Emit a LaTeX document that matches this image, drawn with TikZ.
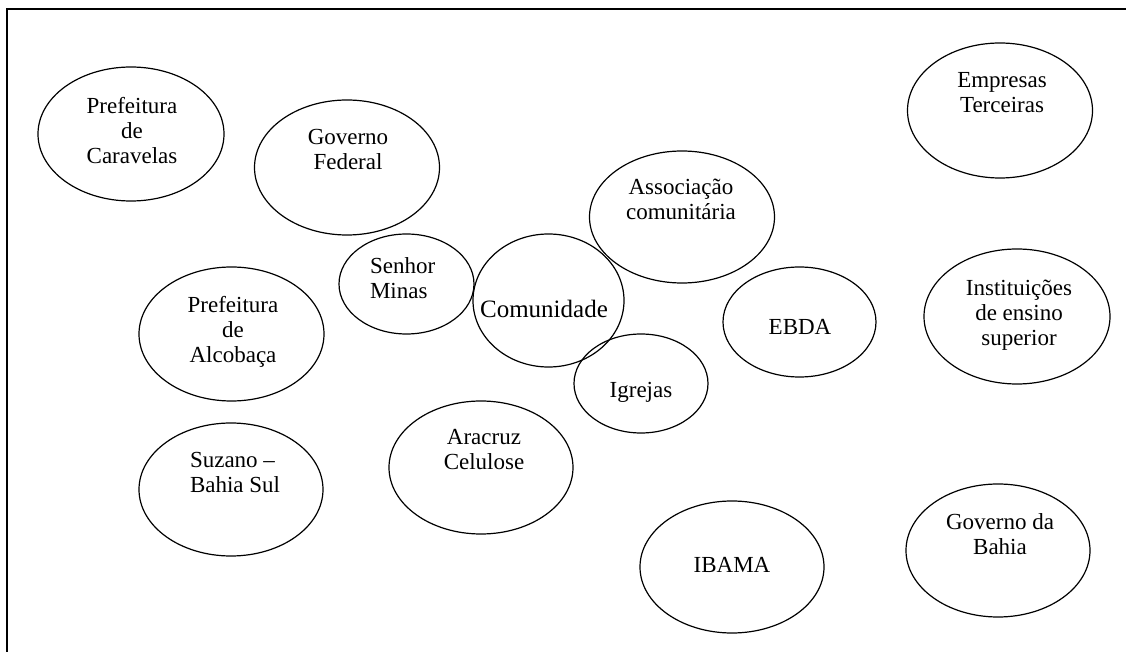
\documentclass[tikz,border=0pt]{standalone}
\usepackage{fontspec}
\setmainfont{Liberation Serif}
\usetikzlibrary{shapes.geometric}
\begin{document}
\begin{tikzpicture}[x=0.5pt,y=-0.5pt,
  ell/.style 2 args={draw,ellipse,line width=0.6pt,inner sep=0pt,outer sep=0pt,minimum width=#1*0.5pt,minimum height=#2*0.5pt},
  txt/.style={inner sep=0pt,outer sep=0pt,anchor=north,align=center,font=\fontsize{11.5pt}{12.4pt}\selectfont},
  txtl/.style={txt,anchor=north west,align=left}]
\useasboundingbox (0,0) rectangle (1126,652);
\begin{scope}
\clip (0,0) rectangle (1126,652);
\coordinate (fr) at (1200,9);
\coordinate (fc) at (7,9);
\coordinate (fb) at (7,700);
\draw[line width=1pt] (fr) -- (fc) -- (fb);
\end{scope}
% ellipses
\node[ell={186}{134}] (car) at (131,134) {};
\node[ell={185}{135}] (gf) at (347,167.5) {};
\node[ell={185}{135}] (emp) at (1000,110.5) {};
\node[ell={185}{132}] (ass) at (682,217) {};
\node[ell={135}{100}] (sen) at (406.5,284) {};
\node[ell={151}{133}] (com) at (548.5,300.5) {};
\node[ell={185}{134}] (alc) at (231.5,334) {};
\node[ell={153}{110}] (ebda) at (799.5,322) {};
\node[ell={186}{135}] (ins) at (1017,316.5) {};
\node[ell={134}{99}] (igr) at (641,383.5) {};
\node[ell={184}{133}] (ara) at (481,467.5) {};
\node[ell={184}{133}] (suz) at (231,489.5) {};
\node[ell={184}{132}] (iba) at (732,567) {};
\node[ell={184}{133}] (gba) at (998,550.5) {};
% texts
\node[txt] (tcar) at (132,97.3) {Prefeitura\\de\\Caravelas};
\node[txt] (temp) at (1002,72.3) {Empresas\\Terceiras};
\node[txt] (tgf) at (348,129.3) {Governo\\Federal};
\node[txt] (tass) at (681,179.3) {Associação\\comunitária};
\node[txtl] (tsen) at (370,257.3) {Senhor\\Minas};
\node[txt,font=\fontsize{12.5pt}{13.5pt}\selectfont] (tcom) at (544,300) {Comunidade};
\node[txt] (tigr) at (641,382.3) {Igrejas};
\node[txt] (talc) at (233,296.3) {Prefeitura\\de\\Alcobaça};
\node[txt] (tebda) at (800,319.3) {EBDA};
\node[txt] (tins) at (1019,280.3) {Instituições\\de ensino\\superior};
\node[txt] (tara) at (484,429.3) {Aracruz\\Celulose};
\node[txtl] (tsuz) at (190,452.3) {Suzano –\\Bahia Sul};
\node[txt] (tiba) at (732,557.3) {IBAMA};
\node[txt] (tgba) at (1000,513.3) {Governo da\\Bahia};
\end{tikzpicture}
\end{document}
